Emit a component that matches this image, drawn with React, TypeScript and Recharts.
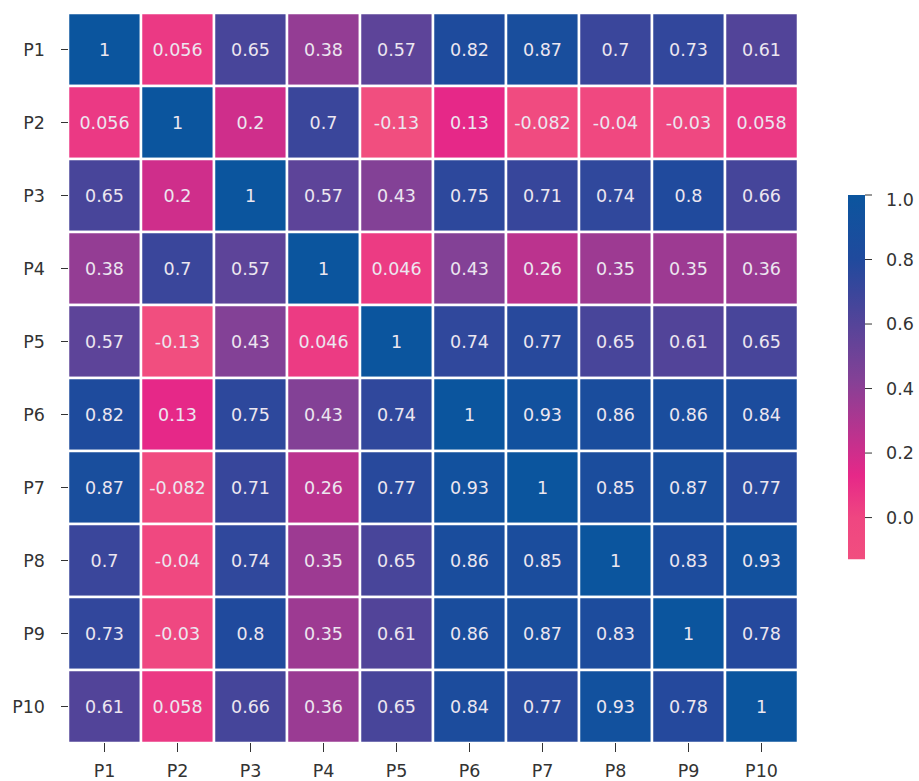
import {
  BarChart,
  Bar,
  Cell,
  LabelList,
  XAxis,
  YAxis,
} from "recharts";

const labels = ["P1", "P2", "P3", "P4", "P5", "P6", "P7", "P8", "P9", "P10"];

const corr = [
  [1, 0.056, 0.65, 0.38, 0.57, 0.82, 0.87, 0.7, 0.73, 0.61],
  [0.056, 1, 0.2, 0.7, -0.13, 0.13, -0.082, -0.04, -0.03, 0.058],
  [0.65, 0.2, 1, 0.57, 0.43, 0.75, 0.71, 0.74, 0.8, 0.66],
  [0.38, 0.7, 0.57, 1, 0.046, 0.43, 0.26, 0.35, 0.35, 0.36],
  [0.57, -0.13, 0.43, 0.046, 1, 0.74, 0.77, 0.65, 0.61, 0.65],
  [0.82, 0.13, 0.75, 0.43, 0.74, 1, 0.93, 0.86, 0.86, 0.84],
  [0.87, -0.082, 0.71, 0.26, 0.77, 0.93, 1, 0.85, 0.87, 0.77],
  [0.7, -0.04, 0.74, 0.35, 0.65, 0.86, 0.85, 1, 0.83, 0.93],
  [0.73, -0.03, 0.8, 0.35, 0.61, 0.86, 0.87, 0.83, 1, 0.78],
  [0.61, 0.058, 0.66, 0.36, 0.65, 0.84, 0.77, 0.93, 0.78, 1],
];

const colorbarTicks = [0, 0.2, 0.4, 0.6, 0.8, 1.0];
const vmin = -0.13;
const vmax = 1.0;

// colour map stops: [value, r, g, b]
const cmap: [number, number, number, number][] = [
  [-0.13, 241, 78, 127],
  [0.0, 239, 70, 129],
  [0.13, 230, 40, 136],
  [0.43, 131, 65, 150],
  [0.7, 58, 70, 155],
  [0.8, 32, 74, 157],
  [1.0, 11, 85, 158],
];

function colorFor(v: number) {
  if (v <= cmap[0][0]) return `rgb(${cmap[0][1]},${cmap[0][2]},${cmap[0][3]})`;
  for (let i = 1; i < cmap.length; i++) {
    const a = cmap[i - 1];
    const b = cmap[i];
    if (v <= b[0]) {
      const t = (v - a[0]) / (b[0] - a[0]);
      const r = Math.round(a[1] + (b[1] - a[1]) * t);
      const g = Math.round(a[2] + (b[2] - a[2]) * t);
      const bl = Math.round(a[3] + (b[3] - a[3]) * t);
      return `rgb(${r},${g},${bl})`;
    }
  }
  const l = cmap[cmap.length - 1];
  return `rgb(${l[1]},${l[2]},${l[3]})`;
}

const rows = labels.map((name, i) => {
  const row: Record<string, any> = { name };
  labels.forEach((_, j) => {
    row[`c${j}`] = 1;
    row[`v${j}`] = corr[i][j];
  });
  return row;
});

const colorbarData = [{ name: "cb", range: [vmin, vmax] }];

const font = "DejaVu Sans";
const tickStyle = { fill: "#333", fontSize: 17.5, fontFamily: font };

export default function App() {
  // gradient runs top (vmax) to bottom (vmin), stops must go in increasing offset
  const gradStops = [...cmap].reverse();
  return (
    <div style={{ position: "absolute", left: 0, top: 0, width: 919, height: 781 }}>
      <div style={{ position: "absolute", left: 0, top: 0 }}>
        <BarChart
          width={810}
          height={781}
          data={rows}
          layout="vertical"
          barCategoryGap={0}
          margin={{ top: 13, right: 12, left: 0, bottom: 0 }}
        >
          <XAxis
            type="number"
            domain={[0, 10]}
            ticks={labels.map((_, i) => i + 0.5)}
            tickFormatter={(v: number) => labels[Math.floor(v)]}
            axisLine={false}
            tickSize={9}
            tickMargin={13}
            tickLine={{ stroke: "#333" }}
            tick={tickStyle}
            height={38}
            interval={0}
          />
          <YAxis
            type="category"
            dataKey="name"
            width={68}
            axisLine={false}
            tickSize={7}
            tickMargin={16}
            tickLine={{ stroke: "#333" }}
            tick={tickStyle}
            interval={0}
          />
          {labels.map((_, j) => (
            <Bar
              key={j}
              dataKey={`c${j}`}
              stackId="a"
              stroke="#ffffff"
              strokeWidth={2.5}
              isAnimationActive={false}
            >
              {rows.map((_, i) => (
                <Cell key={i} fill={colorFor(corr[i][j])} />
              ))}
              <LabelList
                dataKey={`v${j}`}
                position="center"
                formatter={(v: any) => String(v)}
                style={{ fill: "#ece6f0", fontSize: 17.5, fontFamily: font, stroke: "none" }}
              />
            </Bar>
          ))}
        </BarChart>
      </div>
      <div style={{ position: "absolute", left: 848, top: 189.5 }}>
        <BarChart
          width={80}
          height={374.5}
          data={colorbarData}
          barCategoryGap={0}
          margin={{ top: 5, right: 0, left: 0, bottom: 5 }}
        >
          <defs>
            <linearGradient id="cbGrad" x1="0" y1="0" x2="0" y2="1">
              {gradStops.map((s, i) => (
                <stop
                  key={i}
                  offset={`${((vmax - s[0]) / (vmax - vmin)) * 100}%`}
                  stopColor={`rgb(${s[1]},${s[2]},${s[3]})`}
                />
              ))}
            </linearGradient>
          </defs>
          <XAxis dataKey="name" type="category" hide />
          <YAxis
            orientation="right"
            type="number"
            domain={[vmin, vmax]}
            ticks={colorbarTicks}
            tickFormatter={(v: number) => v.toFixed(1)}
            axisLine={false}
            tickSize={7}
            tickMargin={14}
            tickLine={{ stroke: "#333" }}
            tick={{ ...tickStyle, textAnchor: "start" }}
            width={63}
            allowDataOverflow
          />
          <Bar dataKey="range" fill="url(#cbGrad)" isAnimationActive={false} />
        </BarChart>
      </div>
    </div>
  );
}
